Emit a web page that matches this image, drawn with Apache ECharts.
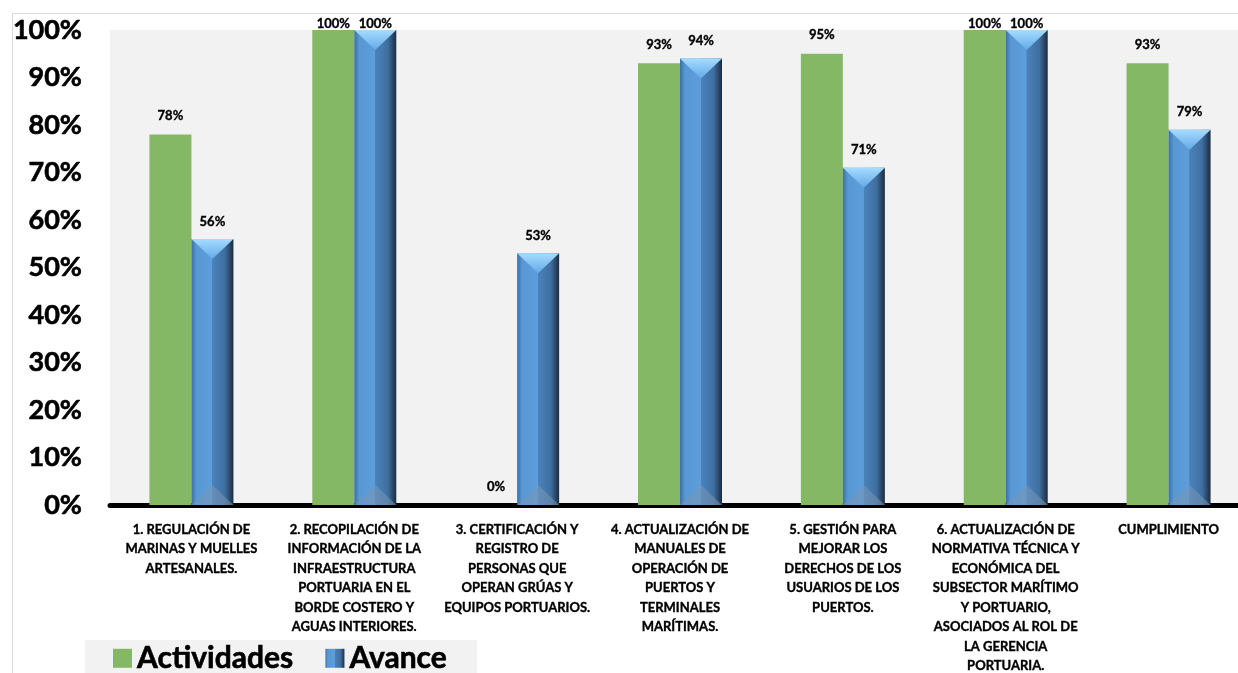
<!DOCTYPE html>
<html>
<head>
<meta charset="utf-8">
<script src="https://cdn.jsdelivr.net/npm/echarts@6/dist/echarts.min.js"></script>
<style>
html,body{margin:0;padding:0;background:#fff;}
#c{width:1238px;height:673px;}
</style>
</head>
<body>
<div id="c"></div>
<script>
const categories = [
  "1. REGULACIÓN DE\nMARINAS Y MUELLES\nARTESANALES.",
  "2. RECOPILACIÓN DE\nINFORMACIÓN DE LA\nINFRAESTRUCTURA\nPORTUARIA EN EL\nBORDE COSTERO Y\nAGUAS INTERIORES.",
  "3. CERTIFICACIÓN Y\nREGISTRO DE\nPERSONAS QUE\nOPERAN GRÚAS Y\nEQUIPOS PORTUARIOS.",
  "4. ACTUALIZACIÓN DE\nMANUALES DE\nOPERACIÓN DE\nPUERTOS Y\nTERMINALES\nMARÍTIMAS.",
  "5. GESTIÓN PARA\nMEJORAR LOS\nDERECHOS DE LOS\nUSUARIOS DE LOS\nPUERTOS.",
  "6. ACTUALIZACIÓN DE\nNORMATIVA TÉCNICA Y\nECONÓMICA DEL\nSUBSECTOR MARÍTIMO\nY PORTUARIO,\nASOCIADOS AL ROL DE\nLA GERENCIA\nPORTUARIA.",
  "CUMPLIMIENTO"
];
const actividades = [78, 100, 0, 93, 95, 100, 93];
const avance = [56, 100, 53, 94, 71, 100, 79];
const seriesNames = ["Actividades", "Avance"];

const FONT = "Lato, 'Open Sans', sans-serif";
const BW = 42;

const blueGrad = new echarts.graphic.LinearGradient(0, 0, 1, 0, [
  {offset: 0, color: '#3c6fa6'},
  {offset: 0.12, color: '#5898d4'},
  {offset: 0.49, color: '#5c9edb'},
  {offset: 0.5, color: '#4b82bb'},
  {offset: 0.8, color: '#3f6fa0'},
  {offset: 1, color: '#1c2c40'}
]);

function withLabel(arr) {
  return arr.map(v => v >= 100 ? {value: v, label: {distance: 0}} : v);
}

const valueLabel = {
  show: true, position: 'top',
  formatter: '{c}%', fontFamily: FONT, fontWeight: 'bold', fontSize: 13, color: '#000',
  textBorderColor: '#000', textBorderWidth: 0.35
};

const chart = echarts.init(document.getElementById('c'), null, {renderer: 'canvas'});
chart.setOption({
  backgroundColor: '#ffffff',
  animation: false,
  graphic: [{
    type: 'rect', left: 10, top: 11,
    shape: {width: 1240, height: 680},
    style: {fill: 'none', stroke: '#d9d9d9', lineWidth: 1},
    z: -10
  }],
  grid: {
    left: 110, width: 1140, top: 30, bottom: 168,
    outerBoundsMode: 'none', containLabel: false,
    show: true, backgroundColor: '#f2f2f2', borderWidth: 0
  },
  legend: {
    data: [
      {name: seriesNames[0], icon: 'rect'},
      {name: seriesNames[1], icon: 'rect'}
    ],
    left: 85, top: 640,
    backgroundColor: '#f2f2f2',
    padding: [3, 30, 10, 28],
    itemWidth: 19, itemHeight: 19, itemGap: 32,
    textStyle: {fontFamily: FONT, fontWeight: 'bold', fontSize: 30, color: '#000',
      textBorderColor: '#000', textBorderWidth: 0.6}
  },
  xAxis: {
    type: 'category',
    data: categories,
    axisLine: {show: true, lineStyle: {color: '#000', width: 5}},
    axisTick: {show: false},
    axisLabel: {
      interval: 0, margin: 15,
      fontFamily: FONT, fontWeight: 'bold', fontSize: 13, lineHeight: 19.5,
      color: '#000', align: 'center',
      textBorderColor: '#000', textBorderWidth: 0.35
    }
  },
  yAxis: {
    type: 'value', min: 0, max: 100, interval: 10,
    axisLine: {show: false}, axisTick: {show: false},
    splitLine: {show: false},
    axisLabel: {
      formatter: '{value}%', margin: 28,
      fontFamily: FONT, fontWeight: 'bold', fontSize: 27, color: '#000',
      textBorderColor: '#000', textBorderWidth: 0.6
    }
  },
  series: [
    {
      name: seriesNames[0], type: 'bar', barWidth: BW, barGap: '0%',
      data: withLabel(actividades),
      itemStyle: {color: '#85b864'},
      label: Object.assign({}, valueLabel, {distance: 12})
    },
    {
      name: seriesNames[1], type: 'bar', barWidth: BW, barGap: '0%',
      data: withLabel(avance),
      itemStyle: {color: blueGrad},
      label: Object.assign({}, valueLabel, {distance: 11})
    },
    {
      type: 'custom', name: 'caps', z: 5,
      data: avance.map((v, i) => [i, v]),
      renderItem: function (params, api) {
        const cat = api.value(0), v = api.value(1);
        const top = api.coord([cat, v]);
        const base = api.coord([cat, 0]);
        const x0 = top[0], x1 = top[0] + BW, xm = top[0] + BW / 2;
        const d = 20;
        return {
          type: 'group',
          children: [
            {
              type: 'polygon',
              shape: {points: [[x0, top[1]], [x1, top[1]], [xm, top[1] + d]]},
              style: {fill: new echarts.graphic.LinearGradient(0, 0, 0, 1, [
                {offset: 0, color: '#a6dcff'}, {offset: 1, color: '#62a9e8'}
              ])}
            },
            {
              type: 'polygon',
              shape: {points: [[x0, base[1]], [x1, base[1]], [xm, base[1] - d]]},
              style: {fill: 'rgba(120,150,180,0.55)'}
            }
          ]
        };
      }
    }
  ]
});
</script>
</body>
</html>
